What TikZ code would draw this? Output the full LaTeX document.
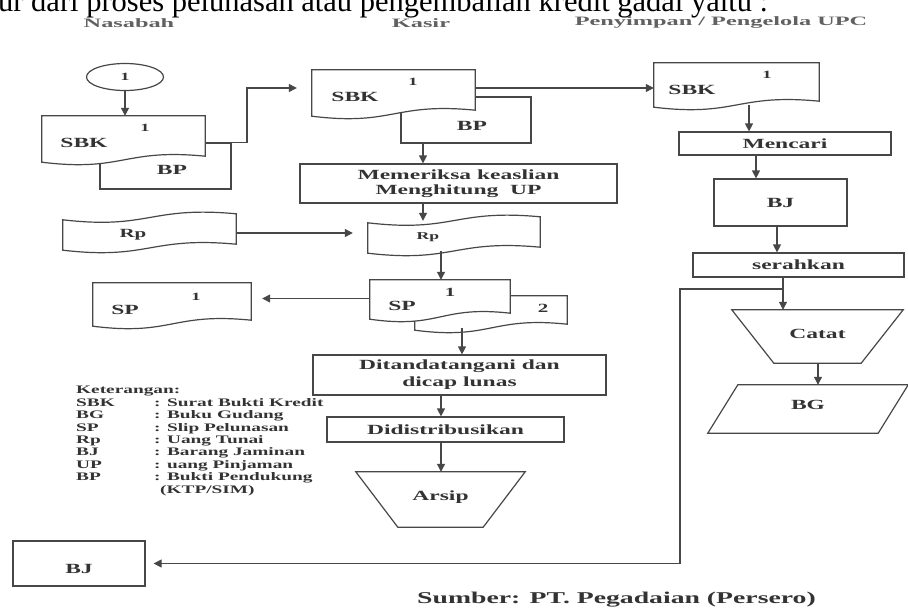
\documentclass[tikz,border=0pt]{standalone}
\usepackage{fontspec}
\setmainfont{Liberation Serif}
\newfontfamily\diafont[FakeStretch=1.68]{Liberation Serif}
\newfontfamily\judulfont[FakeStretch=1.9]{Liberation Serif}
\usepackage{tikz}
\usetikzlibrary{arrows.meta}
\usetikzlibrary{shapes.geometric}
\usetikzlibrary{calc}

\definecolor{tinta}{gray}{0.20}
\definecolor{abu}{gray}{0.38}
\definecolor{garisw}{gray}{0.28}

\newcommand{\fbesar}{\diafont\bfseries\fontsize{14}{15}\selectfont}
\newcommand{\fsedang}{\diafont\bfseries\fontsize{12.5}{14}\selectfont}
\newcommand{\fkecil}{\diafont\bfseries\fontsize{11}{12}\selectfont}
\newcommand{\fmini}{\diafont\bfseries\fontsize{10.5}{12}\selectfont}
\newcommand{\fket}{\diafont\bfseries\fontsize{11.5}{12.4}\selectfont}
\newcommand{\fsumber}{\diafont\bfseries\fontsize{16.5}{18}\selectfont}

\tikzstyle{garis} = [draw=garisw, line width=1.2pt]
\tikzstyle{panah} = [garis, -{Triangle[length=8pt,width=8pt]}]
\tikzstyle{kotak} = [garis, rectangle, inner sep=0pt, align=center]
\tikzstyle{bidang} = [rectangle, inner sep=0pt, align=center]
\tikzstyle{judul} = [font=\judulfont\bfseries\fontsize{12.8}{14}\selectfont, text=abu, inner sep=0pt]

% dokumen: sisi bawah bergelombang
\newcommand{\dokumen}[1]{%
  \filldraw[garis, fill=white] (#1.north west) -- (#1.north east) -- ($(#1.south east)+(0,-4)$)
    .. controls ($(#1.south)+(0,-12)$) and ($(#1.south)+(0,12)$) .. ($(#1.south west)+(0,2)$) -- cycle;}
% pita: sisi atas dan bawah bergelombang
\newcommand{\pita}[1]{%
  \filldraw[garis, fill=white] ($(#1.north west)+(0,2)$)
    .. controls ($(#1.north)+(0,12)$) and ($(#1.north)+(0,-12)$) .. ($(#1.north east)+(0,-4)$)
    -- ($(#1.south east)+(0,-4)$)
    .. controls ($(#1.south)+(0,-12)$) and ($(#1.south)+(0,12)$) .. ($(#1.south west)+(0,2)$) -- cycle;}

\begin{document}
\begin{tikzpicture}[x=1pt,y=-1pt]
	\tikzstyle{every node}=[font=\fbesar, text=tinta]
	\useasboundingbox (0,0) rectangle (908,608);
	\clip (0,0) rectangle (908,608);
	\fill[white] (0,0) rectangle (908,608);
	
	% ------------------- Kalimat pengantar ------------------- %
	\node[anchor=base west, inner sep=0pt, font=\fontsize{30.5}{32}\selectfont, text=black] (pengantar) at (-2,11) {ur dari proses pelunasan atau pengembalian kredit gadai yaitu :};
	
	% ------------------- Judul kolom ------------------- %
	\node[judul] (jNasabah) at (129,23) {Nasabah};
	\node[judul] (jKasir) at (421,23) {Kasir};
	\node[judul] (jUPC) at (721,22.5) {Penyimpan / Pengelola UPC};
	
	% ------------------- Nasabah ------------------- %
	\node[garis, ellipse, minimum width=77pt, minimum height=27pt, inner sep=0pt, font=\fkecil] (konektor) at (125,77) {1};
	
	\node[kotak, minimum width=131pt, minimum height=46pt] (bpA) at (165.5,166) {};
	\node[bidang, minimum width=163pt, minimum height=44pt] (sbkA) at (123.5,138) {};
	\dokumen{sbkA}
	\node[font=\fkecil] at (145,128) {1};
	\node at (84,143) {SBK};
	\node at (172,170) {BP};
	
	\node[bidang, minimum width=173pt, minimum height=30pt] (rpA) at (149.5,233) {};
	\pita{rpA}
	\node[font=\fsedang] at (133,235) {Rp};
	
	\node[bidang, minimum width=158pt, minimum height=41pt] (spA) at (172,303.5) {};
	\dokumen{spA}
	\node[font=\fkecil] at (196,297) {1};
	\node at (125,310) {SP};
	
	\node[kotak, minimum width=132pt, minimum height=45pt, text height=21pt] (bjA) at (79,563.5) {BJ};
	
	\node[anchor=north west, inner sep=0pt, font=\fket] (keterangan) at (76,385) {%
		\begin{tabular}{@{}p{78pt}@{}l@{}}
			\multicolumn{2}{@{}l@{}}{Keterangan:}\\
			SBK & : Surat Bukti Kredit\\
			BG  & : Buku Gudang\\
			SP  & : Slip Pelunasan\\
			Rp  & : Uang Tunai\\
			BJ  & : Barang Jaminan\\
			UP  & : uang Pinjaman\\
			BP  & : Bukti Pendukung\\
			    & \hspace{6pt}(KTP/SIM)
		\end{tabular}};
	
	% ------------------- Kasir ------------------- %
	\node[kotak, minimum width=130pt, minimum height=46pt] (bpB) at (466,120) {};
	\node[bidang, minimum width=163pt, minimum height=44pt] (sbkB) at (393.5,92) {};
	\dokumen{sbkB}
	\node[font=\fkecil] at (413,82) {1};
	\node at (355,97) {SBK};
	\node at (472,126) {BP};
	
	\node[kotak, minimum width=317pt, minimum height=39pt] (periksa) at (458.5,183.5) {Memeriksa keaslian\\Menghitung\ \ UP};
	
	\node[bidang, minimum width=172pt, minimum height=30pt] (rpB) at (454,236) {};
	\pita{rpB}
	\node[font=\fmini] at (428,237) {Rp};
	
	\node[bidang, minimum width=152pt, minimum height=32pt] (spB2) at (491,312) {};
	\dokumen{spB2}
	\node[font=\fsedang] at (543,308) {2};
	\node[bidang, minimum width=140pt, minimum height=37pt] (spB) at (440,298.5) {};
	\dokumen{spB}
	\node[font=\fsedang] at (450,292) {1};
	\node at (402,306) {SP};
	
	\node[kotak, minimum width=293pt, minimum height=40pt] (tanda) at (459.5,375) {Ditandatangani dan\\[2pt]dicap lunas};
	\node[kotak, minimum width=237pt, minimum height=25pt] (distrib) at (445.5,429.5) {Didistribusikan};
	\node[bidang, minimum width=169pt, minimum height=55pt, text depth=8pt] (arsip) at (440.5,499.5) {Arsip};
	\draw[garis] (arsip.north west) -- (arsip.north east) -- ($(arsip.south east)+(-42,0)$) -- ($(arsip.south west)+(42,0)$) -- cycle;
	
	% ------------------- Penyimpan / Pengelola UPC ------------------- %
	\node[bidang, minimum width=165pt, minimum height=42pt] (sbkC) at (736.5,84) {};
	\dokumen{sbkC}
	\node[font=\fkecil] at (767,75) {1};
	\node at (692,90) {SBK};
	
	\node[kotak, minimum width=212pt, minimum height=23pt] (cari) at (785,143.5) {Mencari};
	\node[kotak, minimum width=133pt, minimum height=47pt] (bjC) at (780.5,202.5) {BJ};
	\node[kotak, minimum width=211pt, minimum height=24pt] (serah) at (798.5,265) {serahkan};
	\node[bidang, minimum width=171pt, minimum height=53pt, text depth=6pt] (catat) at (817.5,336.5) {Catat};
	\draw[garis] (catat.north west) -- (catat.north east) -- ($(catat.south east)+(-42,0)$) -- ($(catat.south west)+(42,0)$) -- cycle;
	\node[bidang, minimum width=200pt, minimum height=48pt, text depth=8pt] (bg) at (808,409) {BG};
	\draw[garis] ($(bg.north west)+(30,0)$) -- (bg.north east) -- ($(bg.south east)+(-30,0)$) -- (bg.south west) -- cycle;
	
	% ------------------- Sumber ------------------- %
	\node[anchor=west, inner sep=0pt, font=\fsumber] (sumber) at (417,600) {Sumber: PT. Pegadaian (Persero)};
	
	% ------------------- Garis alir ------------------- %
	\coordinate (tikungA) at (247,0);
	\coordinate (k1) at (423,0);
	\coordinate (k2) at (441,0);
	\coordinate (k3) at (462,0);
	\coordinate (p1) at (749,0);
	\coordinate (p2) at (756,0);
	\coordinate (p3) at (777,0);
	\coordinate (p4) at (783,0);
	\coordinate (p5) at (818,0);
	\coordinate (tepi) at (680,0);
	\coordinate (cabang) at (783,289);
	
	\draw[panah] (konektor.south) -- (konektor.south |- sbkA.north);
	\draw[panah, shorten >=15pt] (bpA.north east) -- (tikungA |- bpA.north east) |- ([yshift=4pt]sbkB.west);
	\draw[panah] ([yshift=4pt]sbkB.east) -- ([yshift=4pt]sbkB.east -| sbkC.west);
	
	\draw[panah] (bpB.south -| k1) -- (periksa.north -| k1);
	\draw[panah] (periksa.south -| k1) -- (rpB.north -| k1);
	\draw[panah, shorten >=15pt] (rpA.east) -- (rpA.east -| rpB.west);
	\draw[panah] (rpB.south -| k2) -- (spB.north -| k2);
	\draw[panah, shorten >=11pt] (spB.west) -- (spB.west -| spA.east);
	\draw[panah] (spB2.south -| k3) -- (tanda.north -| k3);
	\draw[panah] (tanda.south -| k2) -- (distrib.north -| k2);
	\draw[panah] (distrib.south -| k2) -- (arsip.north -| k2);
	
	\draw[panah] (sbkC.south -| p1) -- (cari.north -| p1);
	\draw[panah] (cari.south -| p2) -- (bjC.north -| p2);
	\draw[panah] (bjC.south -| p3) -- (serah.north -| p3);
	\draw[panah] (serah.south -| p4) -- (catat.north -| p4);
	\draw[panah] (catat.south -| p5) -- (bg.north -| p5);
	\draw[panah, shorten >=8pt] (cabang) -- (cabang -| tepi) -- (tepi |- bjA.east) -- (bjA.east);
	
\end{tikzpicture}
\end{document}
